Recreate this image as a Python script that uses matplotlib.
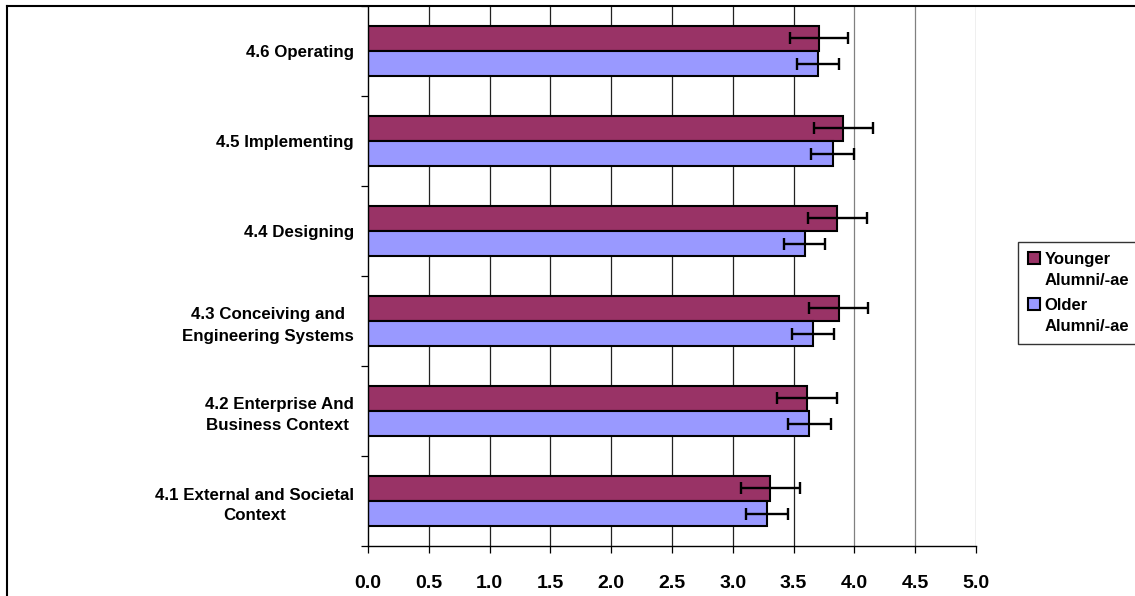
import matplotlib.pyplot as plt
from matplotlib.lines import Line2D
from matplotlib.patches import Rectangle
from matplotlib.legend_handler import HandlerPatch
import numpy as np

# Dados
categorias = ['4.1 External and Societal\nContext',
              '4.2 Enterprise And\nBusiness Context ',
              '4.3 Conceiving and\nEngineering Systems',
              '4.4 Designing',
              '4.5 Implementing',
              '4.6 Operating']
younger = [3.31, 3.61, 3.87, 3.86, 3.91, 3.71]
younger_err = [0.24, 0.245, 0.24, 0.24, 0.24, 0.24]
older = [3.28, 3.63, 3.66, 3.59, 3.82, 3.70]
older_err = [0.17, 0.175, 0.175, 0.17, 0.175, 0.17]
xticks = [0.0, 0.5, 1.0, 1.5, 2.0, 2.5, 3.0, 3.5, 4.0, 4.5, 5.0]

plt.rcParams['font.family'] = ['Liberation Sans', 'DejaVu Sans']

fig = plt.figure(figsize=(11.35, 5.96), dpi=100)
ax = fig.add_axes([368 / 1135, 1 - 546 / 596, 608 / 1135, 540 / 596])

y = np.arange(len(categorias))
h = 0.28

# Linhas de grade
for xv in xticks[1:]:
    ax.axvline(xv, color='#222222' if xv <= 3.5 else '#808080', lw=0.9, zorder=0)

err_kw = dict(ecolor='black', elinewidth=1.7, capsize=4.5, capthick=1.7)
ax.barh(y + h / 2, younger, height=h, xerr=younger_err, color='#993366',
        edgecolor='black', linewidth=1.5, error_kw=err_kw, zorder=2)
ax.barh(y - h / 2, older, height=h, xerr=older_err, color='#9999FF',
        edgecolor='black', linewidth=1.5, error_kw=err_kw, zorder=2)

ax.set_xlim(0, 5)
ax.set_ylim(-0.5, len(categorias) - 0.5)

ax.set_xticks(xticks)
ax.set_xticklabels(['%.1f' % v for v in xticks], fontsize=14, fontweight='bold')
ax.tick_params(axis='x', length=5, width=0.9, pad=16, color='black')

ax.set_yticks(np.arange(-0.5, len(categorias), 1.0))
ax.set_yticklabels([])
ax.tick_params(axis='y', which='major', length=5, width=0.9)
ax.set_yticks(y, minor=True)
ax.set_yticklabels(categorias, minor=True, fontsize=12.2, fontweight='bold',
                   multialignment='center', linespacing=1.5)
ax.tick_params(axis='y', which='minor', length=0, pad=10)

for s in ['top', 'right']:
    ax.spines[s].set_visible(False)
ax.spines['left'].set_linewidth(1.0)
ax.spines['bottom'].set_linewidth(1.0)


# quadradinho da legenda alinhado com a primeira linha do texto
def quadrado(legend, orig_handle, xdescent, ydescent, width, height, fontsize):
    return Rectangle((-xdescent, -ydescent + 0.72 * fontsize), width, height)


h1 = Rectangle((0, 0), 1, 1, facecolor='#993366', edgecolor='black', linewidth=1.5)
h2 = Rectangle((0, 0), 1, 1, facecolor='#9999FF', edgecolor='black', linewidth=1.5)
leg = fig.legend(handles=[h1, h2], labels=['Younger\nAlumni/-ae', 'Older\nAlumni/-ae'],
                 loc='center left',
                 bbox_to_anchor=(1018 / 1135, 1 - 293 / 596),
                 prop={'weight': 'bold', 'size': 12},
                 frameon=True, fancybox=False, edgecolor='black',
                 handlelength=0.7, handleheight=0.7, handletextpad=0.3,
                 borderpad=0.6, labelspacing=0.6, borderaxespad=0,
                 handler_map={Rectangle: HandlerPatch(patch_func=quadrado)})
leg.get_frame().set_linewidth(1.0)
for t in leg.get_texts():
    t.set_linespacing(1.5)

# Moldura do gráfico
fig.add_artist(Line2D([7 / 1135, 7 / 1135], [0, 1 - 6 / 596], color='black', lw=1.5))
fig.add_artist(Line2D([7 / 1135, 1], [1 - 6 / 596, 1 - 6 / 596], color='black', lw=1.5))

fig.savefig('out.png', dpi=100)
